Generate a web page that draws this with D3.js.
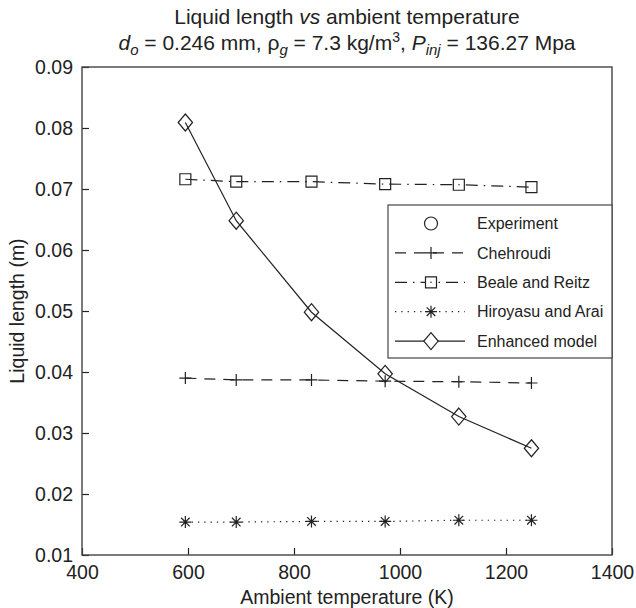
<!DOCTYPE html>
<html>
<head>
<meta charset="utf-8">
<script src="https://cdn.jsdelivr.net/npm/d3@7"></script>
<style>
  body { margin: 0; background: #fff; }
  text { font-family: "Liberation Sans", Arial, sans-serif; fill: #222; }
</style>
</head>
<body>
<div id="chart"></div>
<script>
// values
var temps = [595, 691, 833, 972, 1111, 1248];
var experiment = [];   // shown in legend only, no points in the plot
var chehroudi = [0.0390, 0.0387, 0.0387, 0.0385, 0.0384, 0.0382];
var bealeReitz = [0.0716, 0.0712, 0.0712, 0.0708, 0.0707, 0.0703];
var hiroyasu = [0.0154, 0.0154, 0.0155, 0.0155, 0.0157, 0.0157];
var enhanced = [0.0809, 0.0648, 0.0498, 0.0397, 0.0327, 0.0275];

var xTicks = [400, 600, 800, 1000, 1200, 1400];
var yTicks = [0.01, 0.02, 0.03, 0.04, 0.05, 0.06, 0.07, 0.08, 0.09];
var seriesNames = ["Experiment", "Chehroudi", "Beale and Reitz", "Hiroyasu and Arai", "Enhanced model"];

var W = 636, H = 608;
var margin = {top: 67, right: 24, bottom: 53, left: 82};
var width = W - margin.left - margin.right,
    height = H - margin.top - margin.bottom;
var ink = "#222";

var x = d3.scaleLinear().domain([400, 1400]).range([0, width]);
var y = d3.scaleLinear().domain([0.01, 0.09]).range([height, 0]);

var svg = d3.select("#chart").append("svg")
    .attr("width", W).attr("height", H);
var g = svg.append("g")
    .attr("transform", "translate(" + margin.left + "," + margin.top + ")");

// marker shapes, drawn around 0,0
var markers = {
    circle: "M6.5,0A6.5,6.5 0 1,1 -6.5,0A6.5,6.5 0 1,1 6.5,0Z",
    plus: "M-6,0H6M0,-6V6",
    square: "M-5.5,-5.5H5.5V5.5H-5.5Z",
    star: "M-6,0H6M0,-6V6M-4.3,-4.3L4.3,4.3M-4.3,4.3L4.3,-4.3",
    diamond: "M0,-8.5L7.2,0L0,8.5L-7.2,0Z"
};

var series = [
    {name: seriesNames[0], values: experiment, dash: null, line: false, marker: "circle"},
    {name: seriesNames[1], values: chehroudi, dash: "11,8", line: true, marker: "plus"},
    {name: seriesNames[2], values: bealeReitz, dash: "12,6,1.5,6", line: true, marker: "square"},
    {name: seriesNames[3], values: hiroyasu, dash: "1.3,5", line: true, marker: "star"},
    {name: seriesNames[4], values: enhanced, dash: null, line: true, marker: "diamond"}
];

var line = d3.line()
    .x(function (d) { return x(d[0]); })
    .y(function (d) { return y(d[1]); });

series.forEach(function (s) {
    var pts = s.values.map(function (v, i) { return [temps[i], v]; });
    if (s.line && pts.length) {
        g.append("path")
            .datum(pts)
            .attr("d", line)
            .attr("fill", "none")
            .attr("stroke", ink)
            .attr("stroke-width", 1.2)
            .attr("stroke-dasharray", s.dash);
    }
    g.selectAll(null)
        .data(pts)
        .enter()
        .append("path")
        .attr("d", markers[s.marker])
        .attr("transform", function (d) { return "translate(" + x(d[0]) + "," + y(d[1]) + ")"; })
        .attr("fill", "none")
        .attr("stroke", ink)
        .attr("stroke-width", 1.2);
});

// axes, ticks pointing inwards
var xAxis = g.append("g")
    .attr("transform", "translate(0," + height + ")")
    .call(d3.axisBottom(x).tickValues(xTicks).tickSize(-7).tickPadding(10).tickFormat(d3.format("d")));
var yAxis = g.append("g")
    .call(d3.axisLeft(y).tickValues(yTicks).tickSize(-7).tickPadding(9).tickFormat(d3.format(".2f")));
[xAxis, yAxis].forEach(function (a) {
    a.select(".domain").remove();
    a.selectAll(".tick line").attr("stroke", ink).attr("stroke-width", 1.2);
    a.selectAll(".tick text").attr("font-size", 19.5).attr("fill", ink)
        .attr("font-family", "Liberation Sans, Arial, sans-serif");
});

// frame
g.append("rect")
    .attr("width", width).attr("height", height)
    .attr("fill", "none").attr("stroke", "#444").attr("stroke-width", 1.4);

// legend
var lgX = 388 - margin.left, lgY = 205 - margin.top;
var lg = g.append("g").attr("transform", "translate(" + lgX + "," + lgY + ")");
var lgW = width - lgX, rowH = 29.4;
lg.append("rect")
    .attr("width", lgW).attr("height", 153)
    .attr("fill", "#fff").attr("stroke", "#444").attr("stroke-width", 1.2);
series.forEach(function (s, i) {
    var row = lg.append("g").attr("transform", "translate(0," + (18.5 + i * rowH) + ")");
    if (s.line) {
        row.append("line")
            .attr("x1", 7).attr("x2", 77)
            .attr("stroke", ink).attr("stroke-width", 1.2)
            .attr("stroke-dasharray", s.dash);
    }
    row.append("path")
        .attr("d", markers[s.marker])
        .attr("transform", "translate(43,0)")
        .attr("fill", "#fff")
        .attr("stroke", ink).attr("stroke-width", 1.2);
    if (s.marker === "square") {
        row.append("circle").attr("cx", 43).attr("r", 0.8).attr("fill", ink);
    }
    row.append("text")
        .attr("x", 89).attr("dy", "0.35em")
        .attr("font-size", 16)
        .text(s.name);
});

// titles
var cx = margin.left + width / 2;
svg.append("text")
    .attr("x", cx).attr("y", 24)
    .attr("text-anchor", "middle").attr("font-size", 21)
    .html('Liquid length <tspan font-style="italic">vs</tspan> ambient temperature');
svg.append("text")
    .attr("x", cx).attr("y", 50)
    .attr("text-anchor", "middle").attr("font-size", 21)
    .html('<tspan font-style="italic">d</tspan><tspan font-style="italic" font-size="15" dy="5">o</tspan>' +
          '<tspan dy="-5"> = 0.246 mm, ρ</tspan><tspan font-style="italic" font-size="15" dy="5">g</tspan>' +
          '<tspan dy="-5"> = 7.3 kg/m</tspan><tspan font-size="14" dy="-8">3</tspan>' +
          '<tspan dy="8">, </tspan><tspan font-style="italic">P</tspan>' +
          '<tspan font-style="italic" font-size="15" dy="5">inj</tspan><tspan dy="-5"> = 136.27 Mpa</tspan>');

svg.append("text")
    .attr("x", cx).attr("y", 604)
    .attr("text-anchor", "middle").attr("font-size", 19.5)
    .text("Ambient temperature (K)");
svg.append("text")
    .attr("transform", "translate(24," + (margin.top + height / 2) + ") rotate(-90)")
    .attr("text-anchor", "middle").attr("font-size", 19.5)
    .text("Liquid length (m)");
</script>
</body>
</html>
